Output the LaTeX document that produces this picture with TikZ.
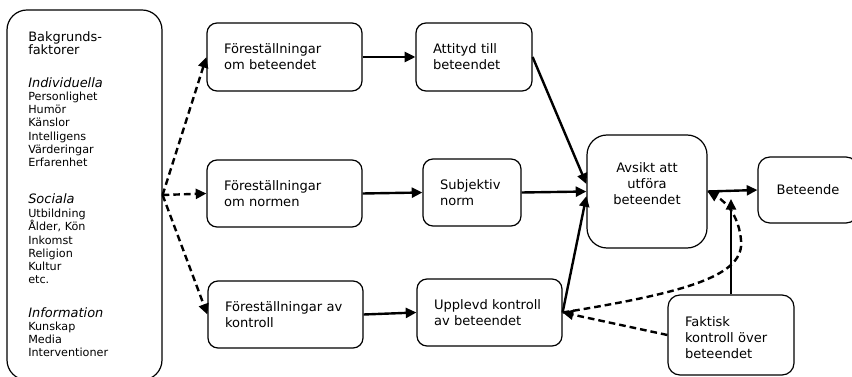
\documentclass[tikz,border=0pt]{standalone}
\usepackage{fontspec}
\setmainfont{DejaVu Sans}
\usetikzlibrary{arrows.meta}

\newcommand{\boxfont}{\fontsize{9.8}{12}\selectfont}
\newcommand{\headfont}{\fontsize{9.7}{10}\selectfont}
\newcommand{\itemfont}{\fontsize{8.4}{10}\selectfont}

\tikzset{
  box/.style={draw, line width=0.9pt, rounded corners=7.5pt, font=\boxfont,
    align=left, inner xsep=12.75pt, inner ysep=0pt},
  head/.style={font=\headfont, anchor=base west, inner sep=0pt},
  item/.style={font=\itemfont, anchor=base west, inner sep=0pt},
  flow/.style={line width=1.8pt, -{Triangle[length=8pt,width=7.5pt]}},
  dflow/.style={flow, dash pattern=on 5pt off 3pt},
}

\begin{document}
\begin{tikzpicture}[x=0.75pt, y=-0.75pt]
\useasboundingbox (0,0) rectangle (852,377);

% Bakgrundsfaktorer
\node[draw, line width=0.9pt, rounded corners=15pt, minimum width=116.25pt,
  minimum height=277.5pt] (bg) at (84.5,195) {};

\node[head] (bgt1) at (28,41.7) {Bakgrunds-};
\node[head] (bgt2) at (28,54.7) {faktorer};

% Individuella
\node[head, font=\headfont\itshape] (indh) at (28,87.7) {Individuella};
\foreach \txt [count=\i from 0] in {Personlighet,Humör,Känslor,Intelligens,Värderingar,Erfarenhet}
  \node[item] (ind\i) at (28,{100.5+13.2*\i}) {\txt};

% Sociala
\node[head, font=\headfont\itshape] (soch) at (28,204) {Sociala};
\foreach \txt [count=\i from 0] in {Utbildning,{Ålder, Kön},Inkomst,Religion,Kultur,etc.}
  \node[item] (soc\i) at (28,{217.7+13.2*\i}) {\txt};

% Information
\node[head, font=\headfont\itshape] (infh) at (28,317.3) {Information};
\foreach \txt [count=\i from 0] in {Kunskap,Media,Interventioner}
  \node[item] (inf\i) at (28,{330.7+13*\i}) {\txt};

% Foerestaellningar
\node[box, text width=90.75pt, minimum height=51pt] (fb) at (284.5,57) {Föreställningar\\om beteendet};
\node[box, text width=90.75pt, minimum height=50.25pt] (fn) at (284.5,193.5) {Föreställningar\\om normen};
\node[box, text width=90.75pt, minimum height=50.25pt] (fk) at (285.5,314.5) {Föreställningar av\\kontroll};

% Attityd, norm, kontroll
\node[box, text width=61.5pt, minimum height=51pt] (att) at (474,57) {Attityd till\\beteendet};
\node[box, text width=48pt, minimum height=50.25pt] (sn) at (472,192.5) {Subjektiv\\norm};
\node[box, text width=83.25pt, minimum height=50.25pt] (uk) at (489.5,312.5) {Upplevd kontroll\\av beteendet};

% Avsikt and Beteende
\node[box, align=center, rounded corners=15pt, minimum width=90pt,
  minimum height=84.75pt] (avs) at (647,191.5) {Avsikt att\\utföra\\beteendet\\\mbox{}};
\node[box, align=center, rounded corners=9pt, minimum width=75pt,
  minimum height=49.5pt] (bet) at (808,190) {Beteende};

% Faktisk kontroll
\node[box, text width=69pt, rounded corners=9pt, minimum height=60pt] (fak) at (731,335)
  {\mbox{}\\Faktisk\\kontroll över\\beteendet};

% Dashed arrows from background
\draw[dflow] (bg.east) -- (fb.west);
\draw[dflow] (bg.east) -- (fn.west);
\draw[dflow] (bg.east) -- (fk.west);

% Solid arrows
\draw[flow] (fb.east) -- (att.west);
\draw[flow] (fn.east) -- (sn.west);
\draw[flow] (fk.east) -- (uk.west);
\draw[flow] (att.east) -- ([yshift=5.6pt]avs.west);
\draw[flow] (sn.east) -- (avs.west);
\draw[flow] (uk.east) -- ([yshift=-3.4pt]avs.west);
\draw[flow] (avs.east) -- (bet.west);

% Actual control
\coordinate (link) at (731,199);
\draw[flow] (fak.north) -- (link);
\draw[dflow] (fak.west) -- (uk.east);
\draw[dflow] (uk.east) .. controls (690,292) and (745,275) .. (741,240)
  .. controls (739,218) and (728,203) .. (avs.east);

\end{tikzpicture}
\end{document}
